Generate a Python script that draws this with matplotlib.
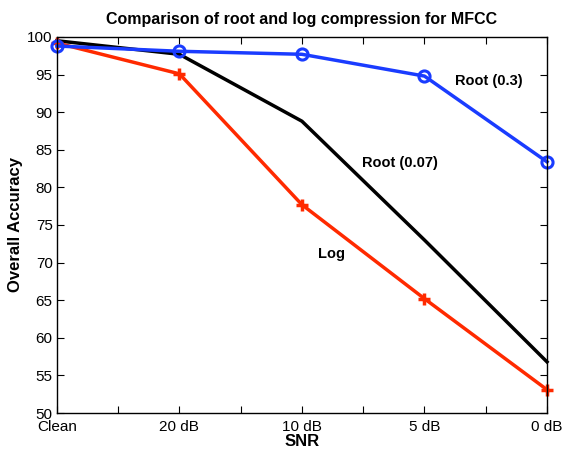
import matplotlib
matplotlib.use("Agg")
import matplotlib.pyplot as plt
import numpy as np

plt.rcParams['font.family'] = ['Liberation Sans', 'DejaVu Sans']

categories = ["Clean", "20 dB", "10 dB", "5 dB", "0 dB"]
root03 = [98.8, 98.1, 97.7, 94.8, 83.4]
root007 = [99.5, 97.7, 88.8, 73.0, 56.8]
log_vals = [99.2, 95.1, 77.7, 65.2, 53.1]

fig = plt.figure(figsize=(5.63, 4.5), dpi=100)
ax = fig.add_axes([0.101, 0.0822, 0.8706, 0.8356])
x = np.arange(len(categories))

ax.plot(x, root007, color='black', lw=2.5, clip_on=False)
ax.plot(x, log_vals, color='#ff2a00', lw=2.5, marker='+', ms=8, mew=2.5, clip_on=False)
ax.plot(x, root03, color='#1a3cff', lw=2.5, marker='o', ms=8, mfc='none', mew=2.2, clip_on=False)

ax.set_xlim(0, 4)
ax.set_ylim(50, 100)
ax.set_xticks(np.arange(0, 4.01, 0.5))
ax.set_xticklabels([categories[0], "", categories[1], "", categories[2], "",
                    categories[3], "", categories[4]])
ax.set_yticks(np.arange(50, 101, 5))
ax.tick_params(direction='in', top=True, right=True, length=5, width=0.8, labelsize=11)
ax.tick_params(axis='x', pad=5)
ax.tick_params(axis='y', pad=3)
for s in ax.spines.values():
    s.set_linewidth(1.0)

ax.set_title("Comparison of root and log compression for MFCC", fontsize=11.5, fontweight='bold', pad=9)
ax.set_xlabel("SNR", fontsize=12, fontweight='bold', labelpad=0)
ax.set_ylabel("Overall Accuracy", fontsize=12, fontweight='bold', labelpad=3)

ax.text(3.25, 94.2, "Root (0.3)", fontsize=10.5, fontweight='bold', va='center', ha='left')
ax.text(2.49, 83.2, "Root (0.07)", fontsize=10.5, fontweight='bold', va='center', ha='left')
ax.text(2.13, 71.1, "Log", fontsize=10.5, fontweight='bold', va='center', ha='left')

fig.savefig("out.png", dpi=100)
